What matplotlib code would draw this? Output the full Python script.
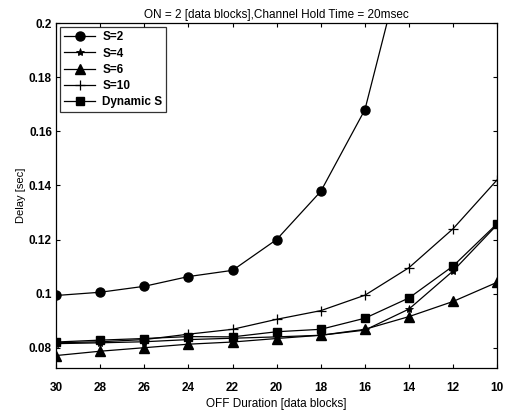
import matplotlib.pyplot as plt
import numpy as np

plt.rcParams['font.family'] = ['Liberation Sans', 'DejaVu Sans']

off = [30, 28, 26, 24, 22, 20, 18, 16, 14, 12, 10]

s2 = [0.0993, 0.1005, 0.1027, 0.1063, 0.1086, 0.1200, 0.1378, 0.1680, 0.2320]
s4 = [0.0815, 0.0818, 0.0822, 0.0830, 0.0835, 0.0840, 0.0846, 0.0865, 0.0943, 0.1084, 0.1255]
s6 = [0.0771, 0.0787, 0.0800, 0.0813, 0.0821, 0.0834, 0.0846, 0.0868, 0.0915, 0.0971, 0.1042]
s10 = [0.0818, 0.0822, 0.0830, 0.0850, 0.0868, 0.0905, 0.0937, 0.0994, 0.1096, 0.1240, 0.1421]
dyn = [0.0821, 0.0828, 0.0834, 0.0841, 0.0840, 0.0859, 0.0868, 0.0909, 0.0984, 0.1102, 0.1259]

yticks = [0.08, 0.1, 0.12, 0.14, 0.16, 0.18, 0.2]
yticklabels = ["0.08", "0.1", "0.12", "0.14", "0.16", "0.18", "0.2"]

fig = plt.figure(figsize=(5.1, 4.13), dpi=100)
ax = fig.add_axes([0.110, 0.109, 0.865, 0.835])

lw = 0.9
ax.plot(off[:len(s2)], s2, c="black", lw=lw, marker="o", ms=6.5, label="S=2")
ax.plot(off, s4, c="black", lw=lw, marker="*", ms=6, mew=0.6, label="S=4")
ax.plot(off, s6, c="black", lw=lw, marker="^", ms=6.5, label="S=6")
ax.plot(off, s10, c="black", lw=lw, marker="+", ms=7, mew=0.9, label="S=10")
ax.plot(off, dyn, c="black", lw=lw, marker="s", ms=6, label="Dynamic S")

ax.set_xlim(30, 10)
ax.set_ylim(0.0725, 0.2)
ax.set_xticks(off)
ax.set_xticklabels([str(v) for v in off], fontsize=8.5, fontweight="bold")
ax.set_yticks(yticks)
ax.set_yticklabels(yticklabels, fontsize=8.5, fontweight="bold")
ax.tick_params(direction="in", top=True, right=True, length=3, width=0.8)
ax.tick_params(axis="x", pad=10)
ax.tick_params(axis="y", pad=3)
for sp in ax.spines.values():
    sp.set_linewidth(0.9)

ax.set_xlabel("OFF Duration [data blocks]", fontsize=8.5, labelpad=3)
ax.set_ylabel("Delay [sec]", fontsize=8, labelpad=2)
ax.set_title("ON = 2 [data blocks],Channel Hold Time = 20msec", fontsize=8.5, pad=4)

leg = ax.legend(loc="upper left", fontsize=8.5, frameon=True, fancybox=False,
                edgecolor="black", borderaxespad=0.35, handlelength=2.6,
                labelspacing=0.35, borderpad=0.35, handletextpad=0.6)
leg.get_frame().set_linewidth(0.9)
for t in leg.get_texts():
    t.set_fontweight("bold")

plt.savefig("out.png", dpi=100)
